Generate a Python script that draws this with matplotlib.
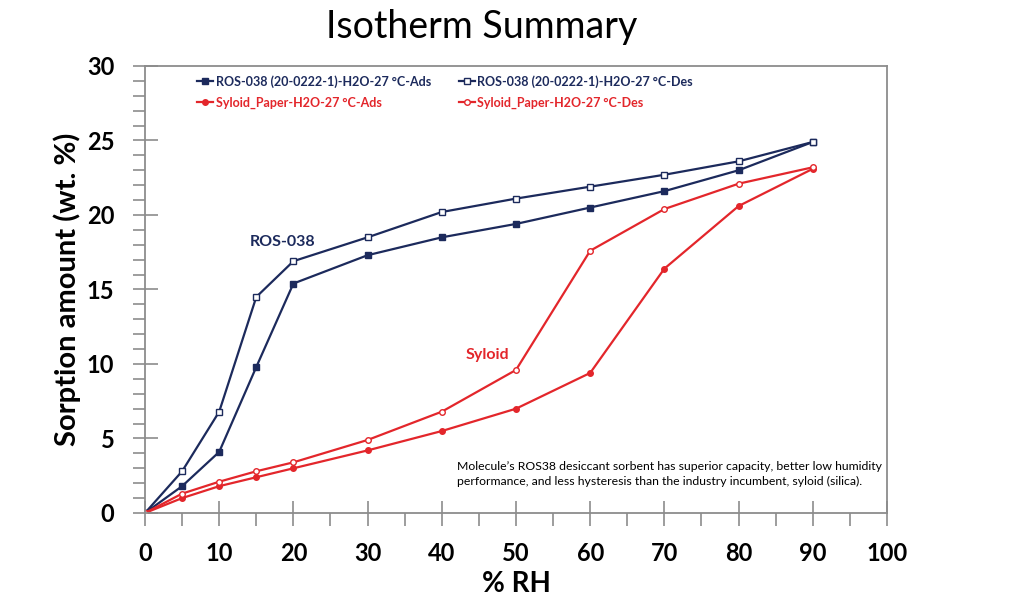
import matplotlib
matplotlib.use("Agg")
import matplotlib.pyplot as plt
from matplotlib.ticker import MultipleLocator

rh = [0, 5, 10, 15, 20, 30, 40, 50, 60, 70, 80, 90]
ros_ads = [0, 1.8, 4.1, 9.8, 15.4, 17.3, 18.5, 19.4, 20.5, 21.6, 23.0, 24.9]
ros_des = [0, 2.8, 6.8, 14.5, 16.9, 18.5, 20.2, 21.1, 21.9, 22.7, 23.6, 24.9]
syl_ads = [0, 1.0, 1.8, 2.4, 3.0, 4.2, 5.5, 7.0, 9.4, 16.4, 20.6, 23.1]
syl_des = [0, 1.3, 2.1, 2.8, 3.4, 4.9, 6.8, 9.6, 17.6, 20.4, 22.1, 23.2]

labels = ["ROS-038 (20-0222-1)-H2O-27 °C-Ads",
          "ROS-038 (20-0222-1)-H2O-27 °C-Des",
          "Syloid_Paper-H2O-27 °C-Ads",
          "Syloid_Paper-H2O-27 °C-Des"]
note = ("Molecule’s ROS38 desiccant sorbent has superior capacity, better low humidity\n"
        "performance, and less hysteresis than the industry incumbent, syloid (silica).")

navy = "#1c2a5c"
red = "#e3262b"
grey = "#8c8c8c"

plt.rcParams["font.family"] = ["Lato", "DejaVu Sans"]

fig = plt.figure(figsize=(10.24, 6.11), dpi=100)
ax = fig.add_axes([0.1416, 0.1604, 0.7246, 0.7316])

h1, = ax.plot(rh, ros_ads, "-s", c=navy, lw=1.6, ms=4.5, mfc=navy, label=labels[0])
h2, = ax.plot(rh, ros_des, "-s", c=navy, lw=1.6, ms=4.5, mfc="white", mew=1.0, label=labels[1])
h3, = ax.plot(rh, syl_ads, "-o", c=red, lw=1.6, ms=4, mfc=red, label=labels[2])
h4, = ax.plot(rh, syl_des, "-o", c=red, lw=1.6, ms=4, mfc="white", mew=1.0, label=labels[3])

ax.set_xlim(0, 100)
ax.set_ylim(0, 30)
ax.xaxis.set_major_locator(MultipleLocator(10))
ax.xaxis.set_minor_locator(MultipleLocator(5))
ax.yaxis.set_major_locator(MultipleLocator(5))
ax.yaxis.set_minor_locator(MultipleLocator(1))
for s in ax.spines.values():
    s.set_color(grey)
    s.set_linewidth(1.3)
ax.tick_params(which="major", direction="inout", length=18, width=1.2, color=grey,
               labelsize=17)
ax.tick_params(which="minor", direction="out", length=9, width=1.2, color=grey)
ax.tick_params(axis="x", which="major", pad=12)
ax.tick_params(axis="y", which="major", pad=13)

ax.set_xlabel("% RH", fontsize=20, fontweight="bold", labelpad=4)
ax.set_ylabel("Sorption amount (wt. %)", fontsize=21, fontweight="bold", labelpad=4)

fig.text(0.47, 0.955, "Isotherm Summary", fontsize=27, ha="center", va="center")

leg = ax.legend(handles=[h1, h3, h2, h4], ncol=2, frameon=False,
                loc="upper left", bbox_to_anchor=(0.055, 1.005),
                prop={"weight": "bold", "size": 9}, handlelength=1.3,
                handletextpad=0.2, columnspacing=2.2, labelspacing=0.7)
for txt, h in zip(leg.get_texts(), [h1, h3, h2, h4]):
    txt.set_color(h.get_color())

ax.text(18.5, 18.2, "ROS-038", color=navy, fontsize=11.5, fontweight="bold",
        ha="center", va="center")
ax.text(46.2, 10.6, "Syloid", color=red, fontsize=11.5, fontweight="bold",
        ha="center", va="center")
ax.text(42.0, 2.6, note, fontsize=8.8, ha="left", va="center", linespacing=1.4)

# tick labels are built at draw time, so make them bold after a first draw
fig.canvas.draw()
for axis in (ax.xaxis, ax.yaxis):
    for tick in axis.get_major_ticks():
        tick.label1.set_fontweight("bold")

fig.savefig("out.png", dpi=100)
